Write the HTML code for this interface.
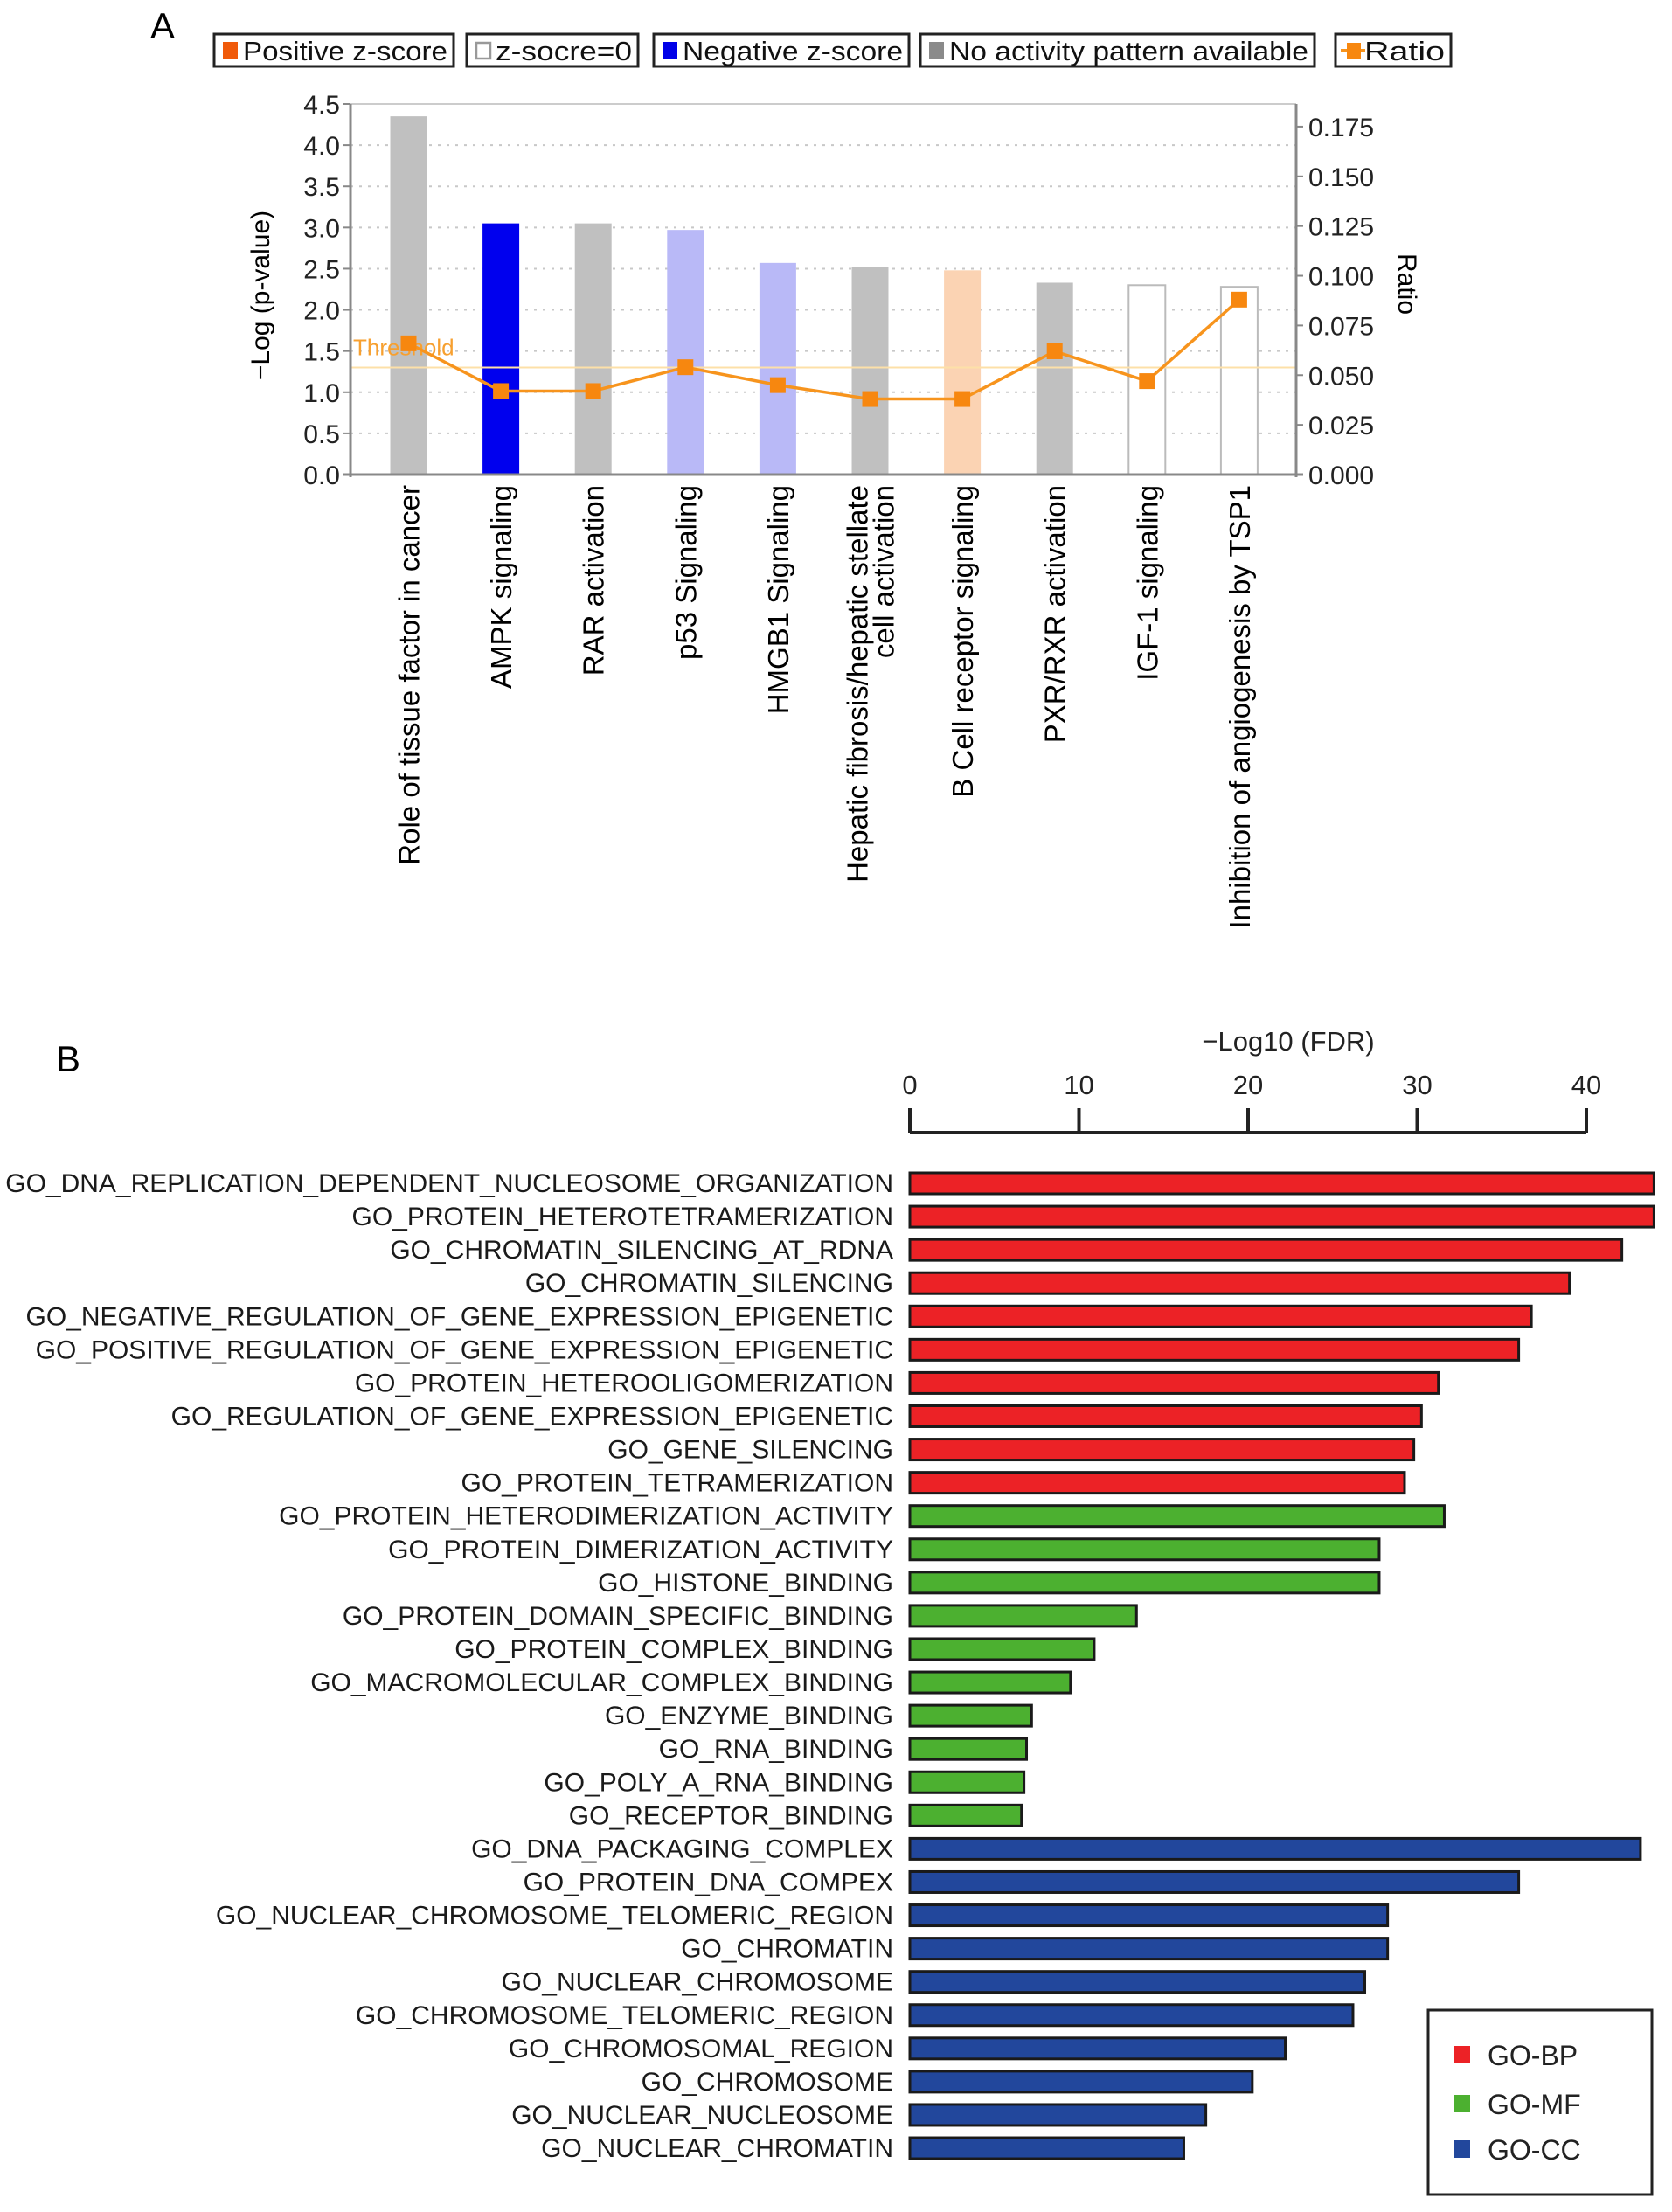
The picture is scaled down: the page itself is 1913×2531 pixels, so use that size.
<!DOCTYPE html>
<html><head><meta charset="utf-8"><style>
html,body{margin:0;padding:0;background:#fff;}
svg{display:block;font-family:"Liberation Sans",sans-serif;}
</style></head><body>
<svg id="fig" width="1913" height="2531" xmlns="http://www.w3.org/2000/svg">
<text x="172" y="44" font-size="42">A</text>
<g id="legA"></g>
<g id="chartA"></g>
<text x="64" y="1226" font-size="42">B</text>
<g id="chartB"></g>
</svg>
<script>
const categoriesA = ["Role of tissue factor in cancer","AMPK signaling","RAR activation","p53 Signaling","HMGB1 Signaling","Hepatic fibrosis/hepatic stellate|cell activation","B Cell receptor signaling","PXR/RXR activation","IGF-1 signaling","Inhibition of angiogenesis by TSP1"];
const logP = [4.35,3.05,3.05,2.97,2.57,2.52,2.48,2.33,2.30,2.28];
const ratio = [0.066,0.042,0.042,0.054,0.045,0.038,0.038,0.062,0.047,0.088];
const zType = ["none","neg","none","negl","negl","none","posl","none","zero","zero"];
const leftTicks = ["0.0","0.5","1.0","1.5","2.0","2.5","3.0","3.5","4.0","4.5"];
const rightTicks = ["0.000","0.025","0.050","0.075","0.100","0.125","0.150","0.175"];
const threshold = 1.3;

const goLabels = ["GO_DNA_REPLICATION_DEPENDENT_NUCLEOSOME_ORGANIZATION","GO_PROTEIN_HETEROTETRAMERIZATION","GO_CHROMATIN_SILENCING_AT_RDNA","GO_CHROMATIN_SILENCING","GO_NEGATIVE_REGULATION_OF_GENE_EXPRESSION_EPIGENETIC","GO_POSITIVE_REGULATION_OF_GENE_EXPRESSION_EPIGENETIC","GO_PROTEIN_HETEROOLIGOMERIZATION","GO_REGULATION_OF_GENE_EXPRESSION_EPIGENETIC","GO_GENE_SILENCING","GO_PROTEIN_TETRAMERIZATION","GO_PROTEIN_HETERODIMERIZATION_ACTIVITY","GO_PROTEIN_DIMERIZATION_ACTIVITY","GO_HISTONE_BINDING","GO_PROTEIN_DOMAIN_SPECIFIC_BINDING","GO_PROTEIN_COMPLEX_BINDING","GO_MACROMOLECULAR_COMPLEX_BINDING","GO_ENZYME_BINDING","GO_RNA_BINDING","GO_POLY_A_RNA_BINDING","GO_RECEPTOR_BINDING","GO_DNA_PACKAGING_COMPLEX","GO_PROTEIN_DNA_COMPEX","GO_NUCLEAR_CHROMOSOME_TELOMERIC_REGION","GO_CHROMATIN","GO_NUCLEAR_CHROMOSOME","GO_CHROMOSOME_TELOMERIC_REGION","GO_CHROMOSOMAL_REGION","GO_CHROMOSOME","GO_NUCLEAR_NUCLEOSOME","GO_NUCLEAR_CHROMATIN"];
const goValues = [44.0,44.0,42.1,39.0,36.75,36.0,31.25,30.25,29.8,29.25,31.6,27.75,27.75,13.4,10.9,9.5,7.2,6.9,6.75,6.6,43.2,36.0,28.25,28.25,26.9,26.2,22.2,20.25,17.5,16.2];
const goGroup = ["BP","BP","BP","BP","BP","BP","BP","BP","BP","BP","MF","MF","MF","MF","MF","MF","MF","MF","MF","MF","CC","CC","CC","CC","CC","CC","CC","CC","CC","CC"];
const goTicks = [0,10,20,30,40];

const NS="http://www.w3.org/2000/svg";
function mk(parent,tag,attrs,text){const e=document.createElementNS(NS,tag);for(const k in attrs)e.setAttribute(k,attrs[k]);if(text!==undefined)e.textContent=text;parent.appendChild(e);return e;}

// ---------- Chart A ----------
const A=document.getElementById('chartA');
const pL=401,pR=1483,pT=119,pB=543;
const yL=v=>pB-(v/4.5)*(pB-pT);
const yR=v=>pB-(v/0.1864)*(pB-pT);
const xA=i=>467.5+i*105.6;
for(let i=1;i<leftTicks.length;i++){const g=mk(A,'line',{x1:pL,x2:pR,y1:yL(+leftTicks[i]),y2:yL(+leftTicks[i]),stroke:'#c8c8c8','stroke-width':2,'stroke-dasharray':'3,7'});

}
mk(A,'line',{x1:pL,x2:pR,y1:pT,y2:pT,stroke:'#ccc','stroke-width':2});
const fills={none:'#c0c0c0',neg:'#0000ee',negl:'#b9b9f7',posl:'#fbd3b3',zero:'#ffffff'};
logP.forEach((v,i)=>{const r=mk(A,'rect',{x:xA(i)-21,y:yL(v),width:42,height:pB-yL(v),fill:fills[zType[i]],stroke:zType[i]==='zero'?'#bbb':'none','stroke-width':2});

});
let t=mk(A,'line',{x1:pL,x2:pR,y1:yL(threshold),y2:yL(threshold),stroke:'#fde0a8','stroke-width':2});


t=mk(A,'text',{x:pL+3,y:yL(threshold)-14,'font-size':26,fill:'#f7a030'},'Threshold');


mk(A,'line',{x1:pL,x2:pL,y1:pT,y2:pB+3,stroke:'#888','stroke-width':3});
mk(A,'line',{x1:pR,x2:pR,y1:pT,y2:pB+3,stroke:'#888','stroke-width':3});
mk(A,'line',{x1:pL-8,x2:pR+8,y1:pB,y2:pB,stroke:'#888','stroke-width':3});
leftTicks.forEach(s=>{const y=yL(+s);mk(A,'line',{x1:pL-8,x2:pL,y1:y,y2:y,stroke:'#888','stroke-width':2});
const e=mk(A,'text',{x:pL-12,y:y+11,'font-size':30,'text-anchor':'end',fill:'#222'},s);

});
rightTicks.forEach(s=>{const y=yR(+s);mk(A,'line',{x1:pR,x2:pR+8,y1:y,y2:y,stroke:'#888','stroke-width':2});
const e=mk(A,'text',{x:pR+14,y:y+11,'font-size':30,fill:'#222'},s);

});
t=mk(A,'text',{x:0,y:0,'font-size':30,'text-anchor':'middle',transform:'translate(308,338) rotate(-90)'},'\u2212Log (p-value)');


t=mk(A,'text',{x:0,y:0,'font-size':30,'text-anchor':'middle',transform:'translate(1600,325) rotate(90)'},'Ratio');


mk(A,'polyline',{points:ratio.map((r,i)=>xA(i)+','+yR(r)).join(' '),fill:'none',stroke:'#f7941d','stroke-width':3.5});
ratio.forEach((r,i)=>{const m=mk(A,'rect',{x:xA(i)-9,y:yR(r)-9,width:18,height:18,fill:'#f7870f'});

});
categoriesA.forEach((c,i)=>{const lines=c.split('|');const x0=xA(i)+12-(lines.length-1)*15;
lines.forEach((ln,j)=>{const e=mk(A,'text',{x:0,y:0,'font-size':33,'text-anchor':'end',transform:`translate(${x0+j*30},555) rotate(-90)`},ln);

});});
const LA=document.getElementById('legA');
const legItems=[[245,519,'pos','Positive z-score'],[534,730,'zero','z-socre=0'],[748,1040,'neg','Negative z-score'],[1053,1504,'na','No activity pattern available'],[1528,1660,'ratio','Ratio']];
legItems.forEach(it=>{const g=mk(LA,'g',{});


mk(g,'rect',{x:it[0],y:39,width:it[1]-it[0],height:37,fill:'#fff',stroke:'#222','stroke-width':3});
const sx=it[0]+10;
if(it[2]==='pos')mk(g,'rect',{x:sx,y:48,width:17,height:20,fill:'#f05a0a'});
if(it[2]==='zero')mk(g,'rect',{x:sx+1,y:49,width:16,height:18,fill:'#fff',stroke:'#999','stroke-width':2.5});
if(it[2]==='neg')mk(g,'rect',{x:sx,y:48,width:17,height:20,fill:'#0000e8'});
if(it[2]==='na')mk(g,'rect',{x:sx,y:48,width:17,height:20,fill:'#8a8a8a'});
if(it[2]==='ratio'){mk(g,'line',{x1:sx-4,x2:sx+24,y1:58,y2:58,stroke:'#f7941d','stroke-width':4});mk(g,'rect',{x:sx+3,y:49,width:16,height:18,fill:'#f7870f'});}
mk(g,'text',{x:sx+23,y:69,'font-size':31,textLength:(it[1]-it[0])-40,lengthAdjust:'spacingAndGlyphs',fill:'#111'},it[3]);});

// ---------- Chart B ----------
const B=document.getElementById('chartB');
const x0=1041,ppu=19.35;
const xB=v=>x0+v*ppu;
const yB=i=>1354+i*38.07;
mk(B,'line',{x1:xB(0),x2:xB(40),y1:1296,y2:1296,stroke:'#222','stroke-width':4});
goTicks.forEach(v=>{mk(B,'line',{x1:xB(v),x2:xB(v),y1:1268,y2:1296,stroke:'#222','stroke-width':4});
const e=mk(B,'text',{x:xB(v),y:1252,'font-size':31,'text-anchor':'middle',fill:'#222'},String(v));

});
t=mk(B,'text',{x:1474,y:1202,'font-size':31,'text-anchor':'middle',fill:'#222'},'\u2212Log10 (FDR)');


const gcol={BP:'#ec2226',MF:'#4cb030',CC:'#22479c'};
goValues.forEach((v,i)=>{const r=mk(B,'rect',{x:xB(0),y:yB(i)-12,width:v*ppu,height:24,fill:gcol[goGroup[i]],stroke:'#1a1a1a','stroke-width':3});


const e=mk(B,'text',{x:1022,y:yB(i)+10,'font-size':30,'text-anchor':'end',fill:'#1a1a1a'},goLabels[i]);

});
const lg=mk(B,'g',{});


mk(lg,'rect',{x:1634,y:2300,width:256,height:211,fill:'#fff',stroke:'#222','stroke-width':3});
[['BP',2352],['MF',2408],['CC',2460]].forEach(p=>{const g=mk(lg,'g',{});


mk(g,'rect',{x:1664,y:p[1]-11,width:18,height:20,fill:gcol[p[0]]});
mk(g,'text',{x:1702,y:p[1]+11,'font-size':32,fill:'#222'},'GO-'+p[0]);});
</script>
</body></html>
